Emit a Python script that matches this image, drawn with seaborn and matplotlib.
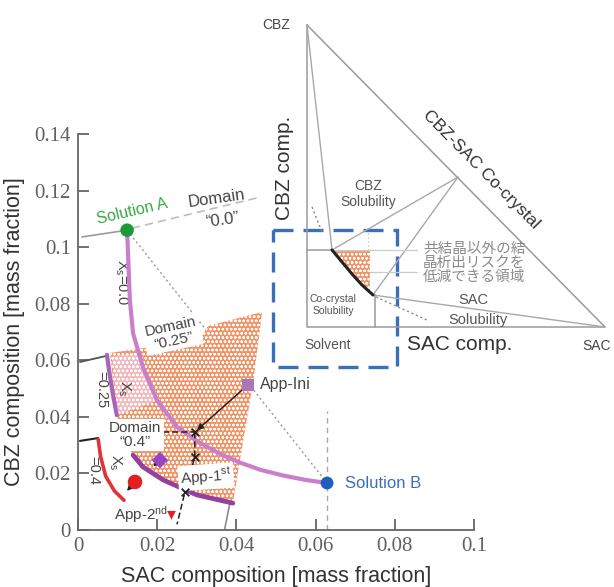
import numpy as np
import pandas as pd
import matplotlib.pyplot as plt
import matplotlib.patches as mpatches
import seaborn as sns

# ---------------------------------------------------------------------------
# Main diagram: compositions in mass fraction
# ---------------------------------------------------------------------------
sol_a = (0.0124, 0.1060)
sol_b = (0.0629, 0.0166)
app_ini = (0.0429, 0.0513)
app_1st = (0.0207, 0.0247)
app_2nd = (0.0144, 0.0170)
app_2nd_tip = (0.0236, 0.0052)

# boundary curves of each domain
xs00_x = [0.0124, 0.0131, 0.0139, 0.0164, 0.0199, 0.0250, 0.0308, 0.0360, 0.0410,
          0.0460, 0.0520, 0.0575, 0.0629]
xs00_y = [0.1060, 0.0813, 0.0696, 0.0576, 0.0460, 0.0364, 0.0308, 0.0268, 0.0238,
          0.0213, 0.0192, 0.0177, 0.0166]
xs25_x = [0.0073, 0.0080, 0.0088, 0.0098]
xs25_y = [0.0619, 0.0550, 0.0480, 0.0406]
xs40_x = [0.0051, 0.0057, 0.0070, 0.0092, 0.0116]
xs40_y = [0.0320, 0.0260, 0.0190, 0.0138, 0.0105]
dom40_x = [0.0139, 0.0164, 0.0215, 0.0300, 0.0391]
dom40_y = [0.0265, 0.0223, 0.0177, 0.0124, 0.0095]

# orange "safe" region and the lighter part next to it
safe_x = [0.0081, 0.0308, 0.0328, 0.0465, 0.0442, 0.0409, 0.0391, 0.0300, 0.0215,
          0.0164, 0.0139, 0.0119, 0.0098]
safe_y = [0.0626, 0.0672, 0.0721, 0.0771, 0.0520, 0.0247, 0.0095, 0.0124, 0.0177,
          0.0223, 0.0265, 0.0318, 0.0406]
pink_x = [0.0085, 0.0152, 0.0175, 0.0196, 0.0100]
pink_y = [0.0614, 0.0628, 0.0540, 0.0455, 0.0406]

# tie lines / construction lines
dom00_solid = ([0.0010, 0.0124], [0.1036, 0.1060])
dom00_dash = ([0.0136, 0.0452], [0.1067, 0.1174])
dom25_line = ([0.0005, 0.0073], [0.0594, 0.0616])
dom40_line = ([0.0005, 0.0051], [0.0315, 0.0325])
solb_vert = ([0.0630, 0.0630], [0.0, 0.0420])
low_vert = ([0.0370, 0.0385], [0.0, 0.0105])
path_horiz = ([0.0215, 0.0295], [0.0346, 0.0346])
path_vert = ([0.0295, 0.0295, 0.0270, 0.0250], [0.0346, 0.0258, 0.0134, 0.0020])
cross_x = [0.0295, 0.0295, 0.0270]
cross_y = [0.0346, 0.0258, 0.0134]

x_ticks = [0, 0.02, 0.04, 0.06, 0.08, 0.1]
x_tick_labels = ['0', '0.02', '0.04', '0.06', '0.08', '0.1']
y_ticks = [0, 0.02, 0.04, 0.06, 0.08, 0.1, 0.12, 0.14]
y_tick_labels = ['0', '0.02', '0.04', '0.06', '0.08', '0.1', '0.12', '0.14']

# ---------------------------------------------------------------------------
# Inset ternary sketch (figure pixel coordinates, y downwards)
# ---------------------------------------------------------------------------
v_cbz = (307, 25)
v_sac = (605, 327)
v_solv = (307, 327)
p_cocrystal = (458, 177)
p_inv1 = (332, 250)
p_inv2 = (373, 295)
cc_curve_x = [332, 342, 352, 362, 373]
cc_curve_y = [250, 262, 274, 285, 295]
cc_region_x = [332, 370, 370, 362, 352, 342]
cc_region_y = [250, 250, 292, 285, 274, 262]
box_xy = (273, 230)
box_w, box_h = 124, 137

# ---------------------------------------------------------------------------
sns.set_theme(style='white')
plt.rcParams['font.family'] = ['Liberation Sans', 'Noto Sans CJK JP', 'DejaVu Sans']
plt.rcParams['mathtext.fontset'] = 'custom'
plt.rcParams['mathtext.rm'] = 'Liberation Sans'
plt.rcParams['mathtext.it'] = 'Liberation Sans:italic'
plt.rcParams['hatch.linewidth'] = 0.6

fig = plt.figure(figsize=(6.14, 5.87), dpi=100)
ax = fig.add_axes([78 / 614, 57 / 587, 396 / 614, 396 / 587])

txt = '#444444'
grey = '#8c8c8c'
orange = '#f09468'

# construction lines (behind the region)
ax.plot([sol_a[0], sol_b[0]], [sol_a[1], sol_b[1]], ls=(0, (1.5, 2)), color='#9a9a9a', lw=1, zorder=1)
ax.plot(*solb_vert, ls=(0, (4, 3)), color='#a8a8a8', lw=1, zorder=1)
ax.plot(*low_vert, color='#8a8a8a', lw=1.2, zorder=1)
ax.plot(*dom00_solid, color='#9a9a9a', lw=1.2, zorder=1)
ax.plot(*dom00_dash, ls=(0, (5, 3)), color='#bdbdbd', lw=1.2, zorder=1)
ax.plot(*dom25_line, color='#555555', lw=1.3, zorder=1)
ax.plot(*dom40_line, color='#222222', lw=1.5, zorder=1)

# safe region with dotted texture
ax.fill(safe_x, safe_y, facecolor=orange, edgecolor='white', hatch='oooo', lw=0, zorder=2)
ax.fill(pink_x, pink_y, facecolor='#f2b9bd', edgecolor='white', hatch='oooo', lw=0, zorder=2)

# domain boundary curves
sns.lineplot(x=xs00_x, y=xs00_y, sort=False, estimator=None, color='#c97fcc', lw=3, ax=ax, zorder=4)
sns.lineplot(x=xs25_x, y=xs25_y, sort=False, estimator=None, color='#a764b8', lw=3, ax=ax, zorder=4)
sns.lineplot(x=xs40_x, y=xs40_y, sort=False, estimator=None, color='#e0333a', lw=2.6, ax=ax, zorder=4)
sns.lineplot(x=dom40_x, y=dom40_y, sort=False, estimator=None, color='#93409f', lw=3.4, ax=ax, zorder=4)

# operation path
ax.plot(*path_horiz, ls=(0, (4, 2)), color='#222222', lw=1.1, zorder=5)
ax.plot(*path_vert, ls=(0, (4, 2)), color='#222222', lw=1.1, zorder=5)
sns.scatterplot(x=cross_x, y=cross_y, marker='x', color='#222222', s=30, linewidth=1.3, ax=ax, zorder=6)
arrow = dict(arrowstyle='-|>', color='#222222', lw=1.1, mutation_scale=9)
ax.annotate('', xy=(cross_x[0], cross_y[0]), xytext=app_ini, arrowprops=arrow, zorder=6)
ax.annotate('', xy=(0.0185, 0.0218), xytext=app_1st, arrowprops=arrow, zorder=6)
ax.annotate('', xy=(0.0119, 0.0131), xytext=app_2nd, arrowprops=arrow, zorder=6)

# points
sns.scatterplot(x=[sol_a[0]], y=[sol_a[1]], color='#1f9a3a', s=95, edgecolor='none', ax=ax, zorder=7)
sns.scatterplot(x=[sol_b[0]], y=[sol_b[1]], color='#1f5fbf', s=85, edgecolor='none', ax=ax, zorder=7)
sns.scatterplot(x=[app_ini[0]], y=[app_ini[1]], marker='s', color='#a877b5', s=70, edgecolor='none', ax=ax, zorder=7)
sns.scatterplot(x=[app_1st[0]], y=[app_1st[1]], marker='D', color='#9745c0', s=70, edgecolor='none', ax=ax, zorder=7)
sns.scatterplot(x=[app_2nd[0]], y=[app_2nd[1]], color='#e41f1f', s=110, edgecolor='none', ax=ax, zorder=7)
sns.scatterplot(x=[app_2nd_tip[0]], y=[app_2nd_tip[1]], marker='v', color='#e41f1f', s=40, edgecolor='none', ax=ax, zorder=7)

# labels
box = dict(boxstyle='square,pad=0.15', fc='white', ec='none')
ax.text(0.0138, 0.1125, 'Solution A', color='#3aa845', fontsize=11.5, rotation=13, ha='center', va='center')
ax.text(0.0350, 0.1172, 'Domain', color=txt, fontsize=12, rotation=8, ha='center', va='center')
ax.text(0.0365, 0.1095, '\u201c0.0\u201d', color=txt, fontsize=12, rotation=8, ha='center', va='center')
ax.text(0.0238, 0.0693, 'Domain\n\u201c0.25\u201d', color=txt, fontsize=11, rotation=12, ha='center',
        va='center', linespacing=1.0, bbox=box, zorder=5)
ax.text(0.0145, 0.0336, 'Domain\n\u201c0.4\u201d', color=txt, fontsize=11, ha='center',
        va='center', linespacing=1.0, bbox=box, zorder=5)
ax.text(0.0460, 0.0513, 'App-Ini', color=txt, fontsize=11.5, ha='left', va='center')
ax.text(0.0323, 0.0188, r'App-1$^{\mathrm{st}}$', color=txt, fontsize=11, rotation=4, ha='center',
        va='center', bbox=box, zorder=5)
ax.text(0.0160, 0.0053, r'App-2$^{\mathrm{nd}}$', color=txt, fontsize=11, ha='center', va='center')
ax.text(0.0674, 0.0164, 'Solution B', color='#3a6fc0', fontsize=12, ha='left', va='center')
ax.text(0.0110, 0.0877, r'$\mathrm{X_s}$=0.0', color=txt, fontsize=10.5, rotation=-90, ha='center', va='center')
ax.text(0.0116, 0.0502, r'$\mathrm{X_s}$', color=txt, fontsize=10.5, rotation=-90, ha='center', va='center', zorder=5)
ax.text(0.0058, 0.0497, '=0.25', color=txt, fontsize=10.5, rotation=-90, ha='center', va='center')
ax.text(0.0093, 0.0238, r'$\mathrm{X_s}$', color=txt, fontsize=10.5, rotation=-90, ha='center', va='center')
ax.text(0.0039, 0.0212, '=0.4', color=txt, fontsize=10.5, rotation=-90, ha='center', va='center')

# axes styling
ax.set_xlim(0, 0.1)
ax.set_ylim(0, 0.14)
ax.set_xticks(x_ticks)
ax.set_xticklabels(x_tick_labels, fontfamily='Liberation Serif')
ax.set_yticks(y_ticks)
ax.set_yticklabels(y_tick_labels, fontfamily='Liberation Serif')
ax.tick_params(direction='in', length=8, width=1.3, color='#666666', labelsize=15,
               labelcolor='#606060', pad=5, left=True, bottom=True)
for side in ['top', 'right']:
    ax.spines[side].set_visible(False)
for side in ['left', 'bottom']:
    ax.spines[side].set_color('#666666')
    ax.spines[side].set_linewidth(1.3)
ax.set_xlabel('SAC composition [mass fraction]', fontsize=15.5, color='#333333', labelpad=7)
ax.set_ylabel('CBZ composition [mass fraction]', fontsize=15.5, color='#333333', labelpad=7)
ax.set_facecolor('none')

# ---------------------------------------------------------------------------
# inset sketch
# ---------------------------------------------------------------------------
ins = fig.add_axes([0, 0, 1, 1])
ins.set_xlim(0, 614)
ins.set_ylim(587, 0)
ins.axis('off')
ins.patch.set_alpha(0)

lg = '#a8a8a8'
ins.plot([v_cbz[0], v_sac[0], v_solv[0], v_cbz[0]], [v_cbz[1], v_sac[1], v_solv[1], v_cbz[1]], color='#9a9a9a', lw=1.1)
ins.plot([v_cbz[0], p_inv1[0]], [v_cbz[1], p_inv1[1]], color=lg, lw=1)
ins.plot([p_cocrystal[0], p_inv1[0]], [p_cocrystal[1], p_inv1[1]], color=lg, lw=1)
ins.plot([p_cocrystal[0], p_inv2[0]], [p_cocrystal[1], p_inv2[1]], color=lg, lw=1)
ins.plot([v_sac[0], p_inv2[0]], [v_sac[1], p_inv2[1]], color=lg, lw=1)
ins.plot([v_solv[0], p_inv1[0]], [p_inv1[1], p_inv1[1]], color='#999999', lw=1.1)
ins.plot([p_inv1[0], 417], [p_inv1[1], p_inv1[1]], color='#cccccc', lw=0.9)
ins.plot([370, 417], [272, 272], color='#cccccc', lw=0.9)
ins.plot([p_inv2[0] + 2, p_inv2[0] + 2], [p_inv2[1], v_solv[1]], color='#999999', lw=1.1)
ins.plot([312, 322], [207, 232], ls=(0, (1.5, 2)), color='#888888', lw=1)
ins.plot([p_inv2[0] + 3, 427], [p_inv2[1] + 2, 320], ls=(0, (1.5, 2)), color='#888888', lw=1)
ins.plot([368, 368], [233, 250], ls=(0, (1.5, 2)), color='#cccccc', lw=0.8)
ins.fill(cc_region_x, cc_region_y, facecolor=orange, edgecolor='white', hatch='oooo', lw=0)
ins.plot(cc_curve_x, cc_curve_y, color='#222222', lw=2.2)
ins.add_patch(mpatches.Rectangle(box_xy, box_w, box_h, fill=False, ec='#3b6fb8', lw=2.4,
                                 ls=(0, (6, 3))))

ins.text(276, 25, 'CBZ', fontsize=10, color=txt, ha='center', va='center')
ins.text(597, 346, 'SAC', fontsize=10, color=txt, ha='center', va='center')
ins.text(284, 168, 'CBZ comp.', fontsize=15, color='#333333', rotation=90, ha='center', va='center')
ins.text(460, 345, 'SAC comp.', fontsize=15, color='#333333', ha='center', va='center')
ins.text(481, 170, 'CBZ-SAC Co-crystal', fontsize=12.5, color='#333333', rotation=-45.5,
         ha='center', va='center', rotation_mode='anchor')
ins.text(368, 194, 'CBZ\nSolubility', fontsize=10, color='#555555', ha='center', va='center', linespacing=1.1)
ins.text(474, 263, '共結晶以外の結\n晶析出リスクを\n低減できる領域', fontsize=10.5, color='#8a8a8a',
         ha='center', va='center', linespacing=1.0)
ins.text(473, 300, 'SAC', fontsize=10.5, color='#555555', ha='center', va='center')
ins.text(478, 320, 'Solubility', fontsize=10.5, color='#555555', ha='center', va='center')
ins.text(333, 305, 'Co-crystal\nSolubility', fontsize=7.5, color='#555555', ha='center', va='center', linespacing=1.2)
ins.text(328, 345, 'Solvent', fontsize=10, color='#555555', ha='center', va='center')

fig.savefig('out.png', dpi=100, facecolor='white')
